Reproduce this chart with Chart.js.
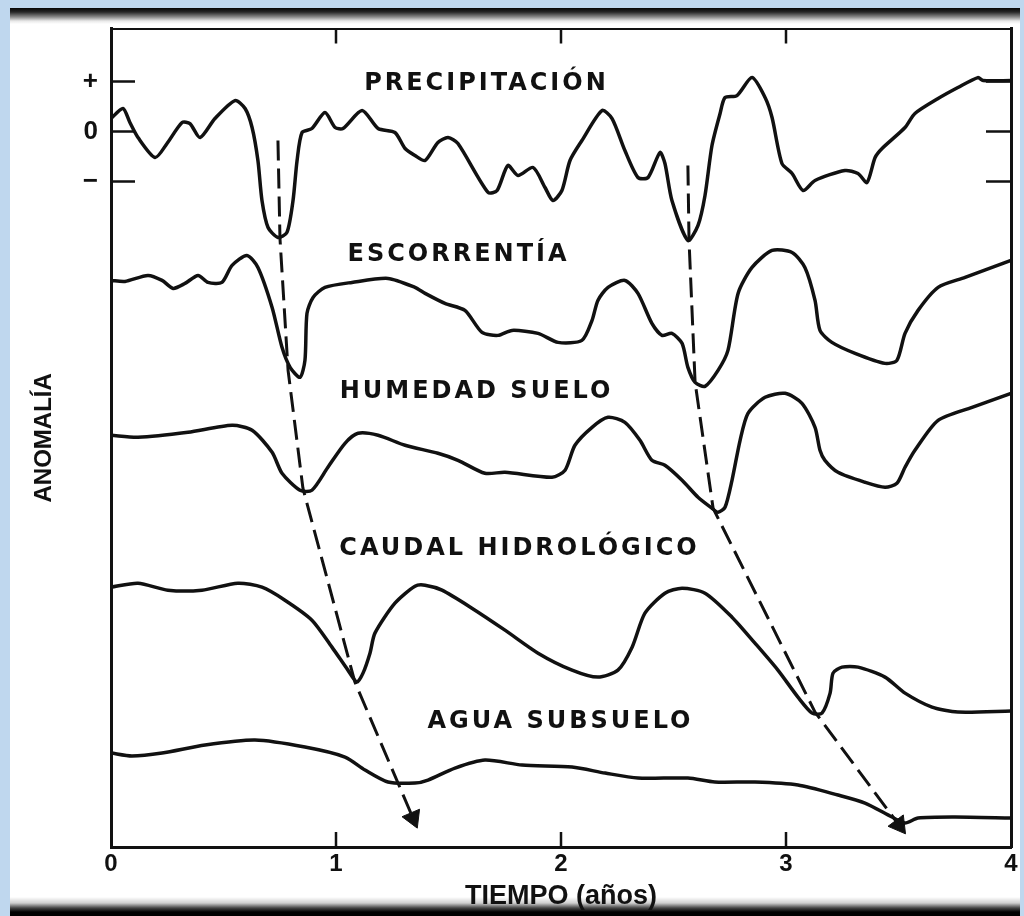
<!DOCTYPE html>
<html>
<head>
<meta charset="utf-8">
<title>Propagación de la sequía</title>
<script src="https://cdn.jsdelivr.net/npm/chart.js"></script>
<style>
    html, body { margin: 0; padding: 0; width: 1024px; height: 916px; overflow: hidden; background: #bfd7ee; }
    #frame {
        position: absolute; left: 10px; top: 8px; width: 1010px; height: 908px;
        background: linear-gradient(to bottom, #050505 0px, #262626 4px, #8a8a8a 9px, #e8e8e8 13px, #fff 16px,
                                    #fff 889px, #cfcfcf 895px, #444 900px, #000 904px, #000 908px);
    }
    #chart { position: absolute; left: 0; top: 0; }
</style>
</head>
<body>
<div id="frame"></div>
<canvas id="chart" width="1024" height="916"></canvas>

<script>
    // Axis ticks and labels
    var xTicks = [0, 1, 2, 3, 4];
    var xTickLabels = ['0', '1', '2', '3', '4'];
    var xInnerTicks = [1, 2, 3];
    var yTicks = [66.6, 71.6, 76.6];
    var yTickLabels = ['\u2212', '0', '+'];

    // Series: [tiempo (años), anomalía desplazada]
    var precipitacion = [
        [0, 72.9], [0.053, 73.9], [0.084, 72.5], [0.12, 71.0], [0.196, 69.0], [0.249, 70.4],
        [0.316, 72.5], [0.351, 72.4], [0.396, 71.0], [0.462, 72.9], [0.551, 74.7], [0.596, 73.9],
        [0.627, 72.0], [0.653, 68.7], [0.671, 64.7], [0.698, 62.0], [0.742, 61.0], [0.782, 61.5],
        [0.809, 64.7], [0.827, 68.7], [0.849, 71.5], [0.893, 71.9], [0.951, 73.5], [0.996, 72.0],
        [1.031, 71.9], [1.116, 73.7], [1.187, 71.9], [1.262, 71.5], [1.307, 69.9], [1.351, 69.2],
        [1.396, 68.7], [1.453, 70.5], [1.498, 71.0], [1.542, 70.4], [1.676, 65.5], [1.716, 65.7],
        [1.764, 68.2], [1.809, 67.2], [1.876, 68.0], [1.929, 66.0], [1.964, 64.7], [2.004, 65.7],
        [2.04, 68.7], [2.093, 70.7], [2.182, 73.7], [2.227, 72.9], [2.284, 69.7], [2.342, 67.0],
        [2.387, 67.0], [2.44, 69.5], [2.462, 68.4], [2.493, 64.7], [2.564, 60.7], [2.609, 62.2],
        [2.64, 65.2], [2.671, 70.2], [2.707, 73.4], [2.729, 75.0], [2.782, 75.2], [2.849, 77.0],
        [2.907, 75.0], [2.938, 73.0], [2.982, 68.4], [3.027, 67.4], [3.076, 65.7], [3.129, 66.7],
        [3.262, 67.7], [3.32, 67.4], [3.36, 66.5], [3.396, 69.0], [3.427, 69.9], [3.529, 72.0],
        [3.573, 73.4], [3.676, 74.9], [3.764, 76.0], [3.853, 77.0], [3.876, 76.7], [4.0, 76.7]
    ];
    var escorrentia = [
        [0, 56.7], [0.062, 56.6], [0.164, 57.2], [0.227, 56.7], [0.276, 55.9], [0.329, 56.4],
        [0.387, 57.2], [0.431, 56.5], [0.493, 56.5], [0.538, 58.2], [0.604, 59.2], [0.653, 58.0],
        [0.716, 54.0], [0.76, 50.0], [0.796, 48.0], [0.84, 47.0], [0.862, 48.7], [0.871, 53.4],
        [0.898, 55.0], [0.951, 56.0], [1.071, 56.5], [1.231, 56.9], [1.351, 56.0], [1.396, 55.4],
        [1.484, 54.4], [1.573, 53.7], [1.649, 51.5], [1.72, 51.2], [1.782, 51.7], [1.898, 51.4],
        [1.987, 50.5], [2.093, 50.7], [2.138, 52.7], [2.164, 54.7], [2.209, 56.0], [2.284, 56.7],
        [2.342, 55.4], [2.404, 52.4], [2.449, 51.2], [2.493, 51.4], [2.538, 50.4], [2.564, 48.0],
        [2.596, 46.5], [2.64, 46.1], [2.698, 47.7], [2.742, 49.7], [2.787, 55.4], [2.849, 58.0],
        [2.938, 59.7], [3.027, 59.5], [3.084, 58.0], [3.129, 54.7], [3.151, 51.7], [3.204, 50.5],
        [3.307, 49.4], [3.44, 48.4], [3.493, 48.7], [3.529, 51.4], [3.587, 53.7], [3.676, 56.0],
        [3.796, 57.0], [4.0, 58.7]
    ];
    var humedadSuelo = [
        [0, 41.2], [0.12, 41.0], [0.342, 41.5], [0.538, 42.2], [0.627, 41.7], [0.716, 39.5],
        [0.76, 37.4], [0.84, 35.7], [0.893, 35.7], [0.964, 38.0], [1.04, 40.4], [1.098, 41.4],
        [1.187, 41.2], [1.307, 40.2], [1.453, 39.4], [1.542, 38.7], [1.662, 37.4], [1.751, 37.5],
        [1.96, 37.0], [2.018, 37.7], [2.062, 40.2], [2.138, 42.0], [2.209, 43.0], [2.284, 42.5],
        [2.351, 40.7], [2.404, 38.7], [2.462, 38.2], [2.538, 36.7], [2.609, 35.0], [2.671, 33.9],
        [2.698, 33.5], [2.729, 34.0], [2.76, 36.7], [2.796, 40.7], [2.831, 43.4], [2.907, 45.0],
        [2.996, 45.4], [3.071, 44.4], [3.129, 42.0], [3.151, 39.7], [3.173, 38.7], [3.231, 37.5],
        [3.351, 36.5], [3.44, 36.0], [3.493, 36.4], [3.529, 38.0], [3.573, 39.7], [3.676, 42.7],
        [3.827, 44.0], [4.0, 45.4]
    ];
    var caudalHidrologico = [
        [0, 26.0], [0.12, 26.4], [0.253, 25.7], [0.404, 25.7], [0.564, 26.4], [0.671, 26.0],
        [0.773, 24.7], [0.893, 22.7], [0.982, 20.0], [1.053, 17.7], [1.093, 16.5], [1.12, 17.4],
        [1.151, 19.4], [1.173, 21.4], [1.262, 24.4], [1.351, 26.1], [1.396, 26.2], [1.471, 25.7],
        [1.604, 23.9], [1.751, 21.7], [1.898, 19.4], [2.049, 17.7], [2.164, 17.0], [2.253, 17.7],
        [2.316, 20.0], [2.373, 23.4], [2.462, 25.4], [2.538, 25.9], [2.64, 25.4], [2.76, 23.0],
        [2.862, 20.4], [2.964, 17.7], [3.053, 15.0], [3.116, 13.4], [3.16, 13.4], [3.196, 15.4],
        [3.209, 17.4], [3.249, 18.0], [3.32, 18.0], [3.44, 17.0], [3.529, 15.4], [3.649, 14.0],
        [3.764, 13.5], [4.0, 13.6]
    ];
    var aguaSubsuelo = [
        [0, 9.4], [0.093, 9.1], [0.227, 9.4], [0.418, 10.2], [0.64, 10.7], [0.862, 10.0],
        [1.04, 9.0], [1.129, 7.7], [1.231, 6.5], [1.351, 6.4], [1.409, 6.7], [1.529, 7.9],
        [1.662, 8.7], [1.827, 8.2], [2.049, 8.0], [2.196, 7.4], [2.342, 6.9], [2.564, 6.9],
        [2.684, 6.5], [2.862, 6.5], [3.053, 6.2], [3.231, 5.2], [3.351, 4.4], [3.471, 3.0],
        [3.529, 2.4], [3.587, 2.9], [3.751, 3.0], [4.0, 2.9]
    ];

    // Propagation arrows (dashed), last point carries the arrow head
    var flechaIzq = [[0.742, 70.7], [0.751, 60.9], [0.787, 47.7], [0.853, 35.9], [1.084, 16.5], [1.342, 2.9]];
    var flechaDer = [[2.564, 68.2], [2.569, 60.7], [2.596, 46.5], [2.676, 33.9], [3.129, 13.5], [3.502, 2.2]];

    // Series names and where they are written
    var seriesNames = ['PRECIPITACIÓN', 'ESCORRENTÍA', 'HUMEDAD SUELO', 'CAUDAL HIDROLÓGICO', 'AGUA SUBSUELO'];
    var labelAnchors = [[1.662, 76.35], [1.538, 59.3], [1.618, 45.6], [1.809, 29.8], [1.991, 12.55]];

    var ink = '#111';
    var boldFont = 'Liberation Sans';
    var labelFont = 'DejaVu Sans';

    function toPoints(arr) {
        return arr.map(function (p) { return { x: p[0], y: p[1] }; });
    }

    function curve(arr) {
        return {
            data: toPoints(arr),
            borderColor: ink,
            borderWidth: 3.5,
            pointRadius: 0,
            tension: 0.25,
            fill: false
        };
    }

    function arrow(arr) {
        var last = arr.length - 1;
        return {
            data: toPoints(arr),
            borderColor: ink,
            borderWidth: 3,
            borderDash: [20, 8],
            tension: 0,
            fill: false,
            pointStyle: 'triangle',
            pointBackgroundColor: ink,
            pointBorderColor: ink,
            pointBorderWidth: 1,
            pointRadius: function (c) { return c.dataIndex === last ? 11 : 0; },
            pointRotation: function (c) {
                if (c.dataIndex !== last) return 0;
                var sx = c.chart.scales.x, sy = c.chart.scales.y;
                var p = arr[last], q = arr[last - 1];
                var dx = sx.getPixelForValue(p[0]) - sx.getPixelForValue(q[0]);
                var dy = sy.getPixelForValue(p[1]) - sy.getPixelForValue(q[1]);
                return Math.atan2(dy, dx) * 180 / Math.PI + 90;
            }
        };
    }

    // Inner tick marks and the series names
    var rotulos = {
        id: 'rotulos',
        afterDatasetsDraw: function (chart) {
            var ctx = chart.ctx, a = chart.chartArea;
            var sx = chart.scales.x, sy = chart.scales.y;
            ctx.save();
            ctx.strokeStyle = ink;
            ctx.lineWidth = 2.5;
            ctx.beginPath();
            xInnerTicks.forEach(function (v) {
                var px = sx.getPixelForValue(v);
                ctx.moveTo(px, a.bottom); ctx.lineTo(px, a.bottom - 15);
                ctx.moveTo(px, a.top); ctx.lineTo(px, a.top + 15);
            });
            yTicks.forEach(function (v) {
                var py = sy.getPixelForValue(v);
                ctx.moveTo(a.left, py); ctx.lineTo(a.left + 24, py);
                ctx.moveTo(a.right, py); ctx.lineTo(a.right - 25, py);
            });
            ctx.stroke();

            ctx.fillStyle = ink;
            ctx.font = 'bold 24px "' + labelFont + '"';
            ctx.textAlign = 'center';
            ctx.textBaseline = 'middle';
            if ('letterSpacing' in ctx) ctx.letterSpacing = '3px';
            seriesNames.forEach(function (name, i) {
                ctx.fillText(name, sx.getPixelForValue(labelAnchors[i][0]) + 1.5, sy.getPixelForValue(labelAnchors[i][1]));
            });
            ctx.restore();
        }
    };

    var plainGrid = { drawOnChartArea: false, drawTicks: false };

    new Chart(document.getElementById('chart'), {
        type: 'line',
        data: {
            datasets: [
                curve(precipitacion),
                curve(escorrentia),
                curve(humedadSuelo),
                curve(caudalHidrologico),
                curve(aguaSubsuelo),
                arrow(flechaIzq),
                arrow(flechaDer)
            ]
        },
        options: {
            responsive: false,
            animation: false,
            layout: { padding: 0 },
            plugins: { legend: { display: false }, tooltip: { enabled: false } },
            scales: {
                x: {
                    type: 'linear', position: 'bottom', min: 0, max: 4,
                    afterBuildTicks: function (s) { s.ticks = xTicks.map(function (v) { return { value: v }; }); },
                    afterFit: function (s) { s.height = 69; },
                    ticks: {
                        callback: function (v, i) { return xTickLabels[i]; },
                        font: { family: boldFont, weight: 'bold', size: 24 },
                        color: ink, padding: 3, maxRotation: 0, autoSkip: false
                    },
                    grid: plainGrid,
                    border: { display: true, width: 3, color: ink },
                    title: {
                        display: true, text: 'TIEMPO (años)', color: ink,
                        font: { family: boldFont, weight: 'bold', size: 27 },
                        padding: { top: 0, bottom: 3 }
                    }
                },
                xTop: {
                    type: 'linear', position: 'top', min: 0, max: 4, display: true,
                    afterFit: function (s) { s.height = 28; },
                    ticks: { display: false },
                    grid: plainGrid,
                    border: { display: true, width: 2, color: ink }
                },
                y: {
                    type: 'linear', position: 'left', min: 0, max: 81.9,
                    afterBuildTicks: function (s) { s.ticks = yTicks.map(function (v) { return { value: v }; }); },
                    afterFit: function (s) { s.width = 111; },
                    ticks: {
                        callback: function (v, i) { return yTickLabels[i]; },
                        font: { family: boldFont, weight: 'bold', size: 26 },
                        color: ink, padding: 13
                    },
                    grid: plainGrid,
                    border: { display: true, width: 3, color: ink },
                    title: {
                        display: true, text: 'ANOMALÍA', color: ink,
                        font: { family: boldFont, weight: 'bold', size: 24 },
                        padding: { top: 30, bottom: 0 }
                    }
                },
                yRight: {
                    type: 'linear', position: 'right', min: 0, max: 81.9, display: true,
                    afterFit: function (s) { s.width = 13; },
                    ticks: { display: false },
                    grid: plainGrid,
                    border: { display: true, width: 3, color: ink }
                }
            }
        },
        plugins: [rotulos]
    });
</script>
</body>
</html>
